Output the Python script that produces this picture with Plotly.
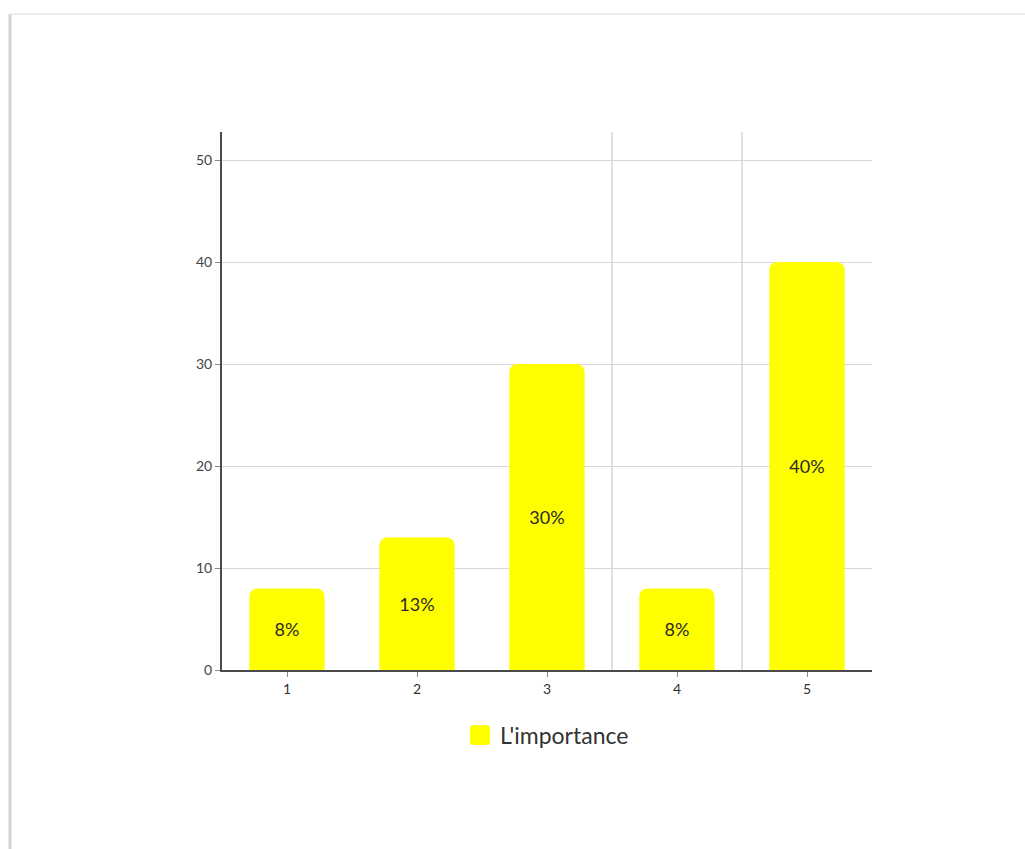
import plotly.graph_objects as go

categories = [1, 2, 3, 4, 5]
values = [8, 13, 30, 8, 40]
series_name = "L'importance"
y_ticks = [0, 10, 20, 30, 40, 50]
divider_positions = [3.5, 4.5]
bar_color = "#ffff00"

W, H = 1025, 849
L, R, T, B = 222, 153, 132, 179
pw, ph = W - L - R, H - T - B

def px_x(p):
    return (p - L) / pw

def px_y(p):
    return (H - B - p) / ph

fig = go.Figure()
fig.add_trace(go.Bar(
    x=categories, y=values, name=series_name,
    marker=dict(color=bar_color, line=dict(width=0)),
    width=0.58,
    texttemplate="%{y}%", textposition="inside", insidetextanchor="middle",
    textangle=0,
    textfont=dict(family="Lato", size=18, color="#2a2a2a"),
    showlegend=False,
))

shapes = []
for xv in divider_positions:
    shapes.append(dict(type="line", xref="x", yref="paper", x0=xv, x1=xv, y0=0, y1=1,
                       line=dict(color="#c8c8d0", width=1.2), layer="below"))
# card edges
shapes.append(dict(type="line", xref="paper", yref="paper",
                   x0=px_x(10), x1=px_x(10), y0=px_y(14), y1=px_y(860),
                   line=dict(color="#d2d2d2", width=3)))
shapes.append(dict(type="line", xref="paper", yref="paper",
                   x0=px_x(10), x1=px_x(1030), y0=px_y(14), y1=px_y(14),
                   line=dict(color="#eeeeee", width=2)))

# legend swatch (rounded square) + label
x0, x1, y0, y1 = px_x(470), px_x(490), px_y(745), px_y(725)
r_x, r_y = 3 / pw, 3 / ph
path = (f"M {x0 + r_x},{y0} L {x1 - r_x},{y0} Q {x1},{y0} {x1},{y0 + r_y} "
        f"L {x1},{y1 - r_y} Q {x1},{y1} {x1 - r_x},{y1} L {x0 + r_x},{y1} "
        f"Q {x0},{y1} {x0},{y1 - r_y} L {x0},{y0 + r_y} Q {x0},{y0} {x0 + r_x},{y0} Z")
shapes.append(dict(type="path", xref="paper", yref="paper", path=path,
                   fillcolor=bar_color, line=dict(width=0)))

annotations = [dict(text=series_name, xref="paper", yref="paper",
                    x=px_x(498), y=px_y(735), xanchor="left", yanchor="middle",
                    showarrow=False, font=dict(family="Lato", size=23, color="#333333"))]

fig.update_layout(
    width=W, height=H,
    margin=dict(l=L, r=R, t=T, b=B, pad=0),
    paper_bgcolor="white", plot_bgcolor="white",
    font=dict(family="Lato", color="#333333"),
    barcornerradius=8,
    shapes=shapes,
    annotations=annotations,
    showlegend=False,
    xaxis=dict(
        range=[0.5, 5.5], tickvals=categories, ticktext=[str(c) for c in categories],
        showgrid=False, zeroline=False,
        showline=True, linecolor="#4a4a4a", linewidth=2,
        ticks="outside", ticklen=5, tickcolor="#888888", tickwidth=1,
        tickfont=dict(family="Lato", size=14, color="#333333"),
    ),
    yaxis=dict(
        range=[0, (H - B - T) / 10.2], tickvals=y_ticks,
        showgrid=True, gridcolor="#d6d6e0", gridwidth=1.2,
        zeroline=False,
        showline=True, linecolor="#4a4a4a", linewidth=2,
        ticks="outside", ticklen=5, tickcolor="#888888", tickwidth=1,
        tickfont=dict(family="Lato", size=14, color="#444444"),
    ),
)

fig.write_html("out.html")
